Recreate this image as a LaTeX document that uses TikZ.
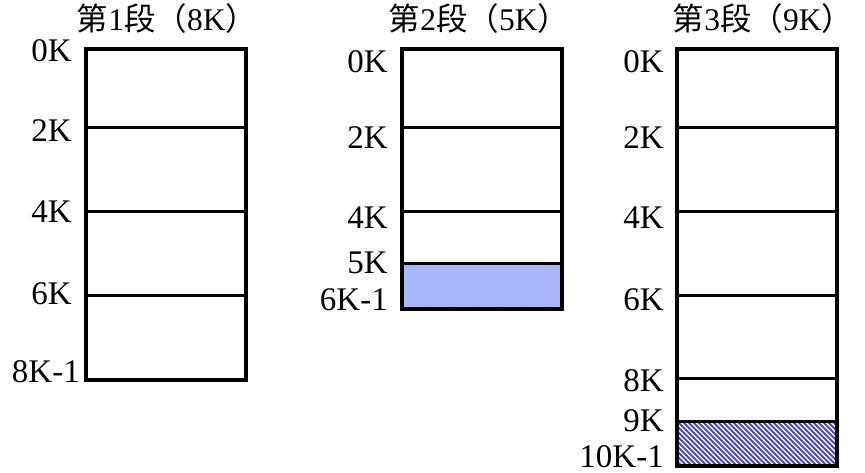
\documentclass[tikz,border=0pt]{standalone}
\usepackage{fontspec}
\setmainfont{Liberation Serif}
\newfontfamily\cjk{Noto Sans CJK SC}
\definecolor{lightfill}{HTML}{A3B6F7}
\definecolor{stripe}{HTML}{4A4AC8}
\begin{document}
\begin{tikzpicture}[x=1pt,y=-1pt]
\tikzset{
  lbl/.style={anchor=base east,inner sep=0pt,font=\fontsize{33}{33}\selectfont},
  ttl/.style={anchor=base,inner sep=0pt,font=\fontsize{31.5}{31.5}\selectfont},
  boxline/.style={line width=3pt},
  outer/.style={line width=3.4pt}
}
\useasboundingbox (0,0) rectangle (865,473);
% titles
\node[ttl] (t1) at (167,31) {{\cjk 第}1{\cjk 段（}8K{\cjk ）}};
\node[ttl] (t2) at (479,31) {{\cjk 第}2{\cjk 段（}5K{\cjk ）}};
\node[ttl] (t3) at (763,31) {{\cjk 第}3{\cjk 段（}9K{\cjk ）}};
% box 2 fill
\fill[lightfill] (402,264) rectangle (562,309);
\begin{scope}
\clip (402,264) rectangle (562,309);
\foreach \i in {-60,-57,...,220} {
  \draw[lightfill!80!blue!60!white,line width=0.6pt] (402+\i,264) -- (402+\i+45,309);
}
\end{scope}
% box 3 stripes
\begin{scope}
\clip (677,421) rectangle (837,466);
\foreach \i in {-60,-55,...,220} {
  \draw[stripe,line width=2pt] (677+\i,421) -- (677+\i+45,466);
}
\end{scope}
% box 1
\draw[boxline] (86,128) -- (246,128);
\draw[boxline] (86,212) -- (246,212);
\draw[boxline] (86,295) -- (246,295);
\draw[outer] (86,49) rectangle (246,380);
% box 2
\draw[boxline] (402,128) -- (562,128);
\draw[boxline] (402,212) -- (562,212);
\draw[boxline] (402,264) -- (562,264);
\draw[outer] (402,49) rectangle (562,309);
% box 3
\draw[boxline] (677,128) -- (837,128);
\draw[boxline] (677,212) -- (837,212);
\draw[boxline] (677,295) -- (837,295);
\draw[boxline] (677,378) -- (837,378);
\draw[boxline] (677,421) -- (837,421);
\draw[outer] (677,49) rectangle (837,466);
% labels box 1
\node[lbl] (a0) at (72,62) {0K};
\node[lbl] (a2) at (72,142) {2K};
\node[lbl] (a4) at (72,223) {4K};
\node[lbl] (a6) at (72,305) {6K};
\node[lbl] (a8) at (80,382) {8K-1};
% labels box 2
\node[lbl] (b0) at (388,73) {0K};
\node[lbl] (b2) at (388,149) {2K};
\node[lbl] (b4) at (388,229) {4K};
\node[lbl] (b5) at (388,273) {5K};
\node[lbl] (b6) at (388,310) {6K-1};
% labels box 3
\node[lbl] (c0) at (664,73) {0K};
\node[lbl] (c2) at (664,149) {2K};
\node[lbl] (c4) at (664,229) {4K};
\node[lbl] (c6) at (664,310) {6K};
\node[lbl] (c8) at (664,391) {8K};
\node[lbl] (c9) at (664,431) {9K};
\node[lbl] (c10) at (664,467) {10K-1};
\end{tikzpicture}
\end{document}
